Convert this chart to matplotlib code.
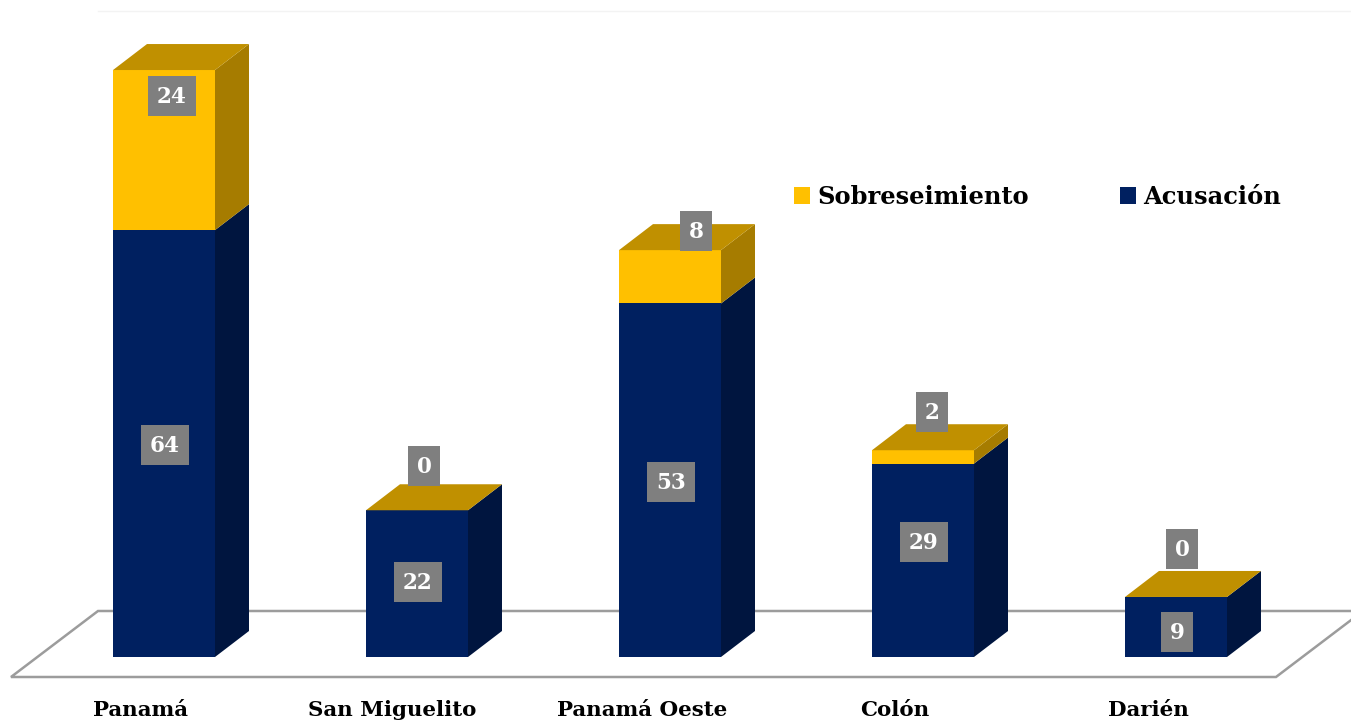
#!/usr/bin/env python3

import matplotlib
matplotlib.use("Agg")
import matplotlib.pyplot as plt
from matplotlib.patches import Patch, Rectangle

regiones = ["Panamá", "San Miguelito", "Panamá Oeste", "Colón", "Darién"]
acusacion = [64, 22, 53, 29, 9]
sobreseimiento = [24, 0, 8, 2, 0]

NAVY = "#002060"
NAVY_SIDE = "#00153F"
GOLD = "#FFC000"
GOLD_SIDE = "#A67C00"
GOLD_TOP = "#C09000"
GRIS = "#7F7F7F"
LINEA = "#9C9C9C"

plt.rcParams["font.family"] = ["DejaVu Serif"]
plt.rcParams["font.weight"] = "bold"

W, H = 1351, 724
X0, Y0 = 164, 657  # pixel of category 0, value 0
PX_X, PX_Y = 253, 6.67  # pixels per category, per value unit

fig = plt.figure(figsize=(W / 100, H / 100), dpi=100)
ax = fig.add_axes([0, 0, 1, 1])
ax.set_xlim(-X0 / PX_X, (W - X0) / PX_X)
ax.set_ylim(-(H - Y0) / PX_Y, Y0 / PX_Y)
ax.axis("off")

ancho = 102 / PX_X
dx = 34 / PX_X
dy = 26 / PX_Y


def px(x, y):
    return (x - X0) / PX_X, (Y0 - y) / PX_Y


# floor
floor_x, floor_y = zip(*[px(1363, 611), px(98, 611), px(11, 677), px(1276, 677), px(1363, 611)])
ax.plot(floor_x, floor_y, color=LINEA, lw=1.8, zorder=1, solid_joinstyle="miter")
top_x, top_y = zip(*[px(98, 11), px(1351, 11)])
ax.plot(top_x, top_y, color="#F3F3F3", lw=1, zorder=1)


def segmento(i, base, valor, color, lado):
    left, right = i - ancho / 2, i + ancho / 2
    ax.add_patch(Rectangle((left, base), ancho, valor, color=color, lw=0, zorder=3))
    ax.fill(
        [right, right + dx, right + dx, right],
        [base, base + dy, base + valor + dy, base + valor],
        color=lado, lw=0, zorder=3,
    )


# x label centres, pixels
etiquetas_x = [140, 392, 642.5, 895, 1148]

for i in range(len(regiones)):
    a, s = acusacion[i], sobreseimiento[i]
    segmento(i, 0, a, NAVY, NAVY_SIDE)
    segmento(i, a, s, GOLD, GOLD_SIDE)
    left, right, total = i - ancho / 2, i + ancho / 2, a + s
    ax.fill(
        [left, right, right + dx, left + dx],
        [total, total, total + dy, total + dy],
        color=GOLD_TOP, lw=0, zorder=3,
    )
    lx, ly = px(etiquetas_x[i], 710)
    ax.text(lx, ly, regiones[i], ha="center", va="center", fontsize=15.4, color="black")


def etiqueta(cx, cy, valor):
    w = (48 if valor >= 10 else 32) / PX_X
    h = 40 / PX_Y
    ax.add_patch(Rectangle((cx - w / 2, cy - h / 2), w, h, color=GRIS, lw=0, zorder=4))
    ax.text(cx, cy - 0.2, str(valor), color="white", ha="center", va="center", fontsize=15.5, zorder=5)


centros_a = [(165, 445), (418, 582), (671, 482), (924, 542), (1177, 632)]
centros_s = [(172, 96), (424, 466), (696, 231), (932, 412), (1182, 549)]
for i in range(len(regiones)):
    etiqueta(*px(*centros_a[i]), acusacion[i])
    etiqueta(*px(*centros_s[i]), sobreseimiento[i])

handles = [Patch(color=GOLD, lw=0, label="Sobreseimiento"), Patch(color=NAVY, lw=0, label="Acusación")]
ax.legend(
    handles=handles, ncol=2, frameon=False, loc="center left",
    bbox_to_anchor=(794 / W, 1 - 197 / H), borderpad=0, borderaxespad=0,
    prop={"size": 17.4, "weight": "bold"}, handlelength=0.66, handleheight=0.66,
    handletextpad=0.29, columnspacing=3.8,
)

plt.savefig("out.png", dpi=100)
plt.close()
